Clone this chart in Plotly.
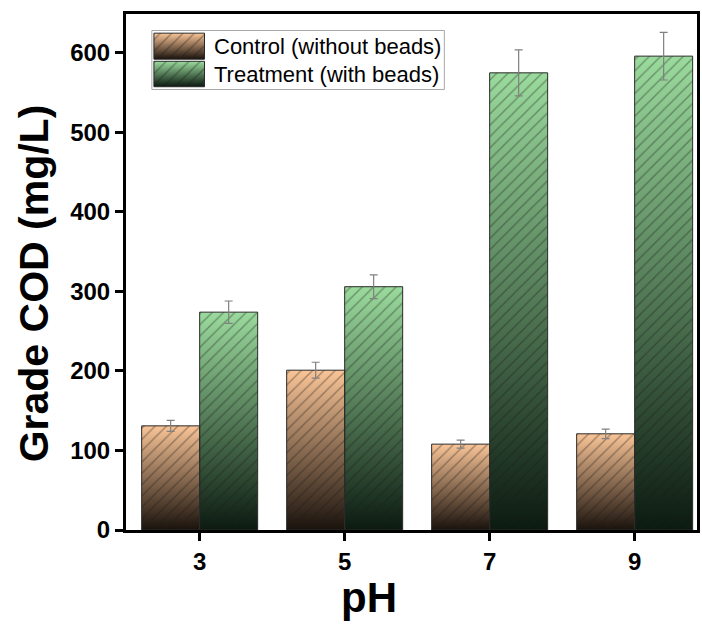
import plotly.graph_objects as go

# ---------------- data ----------------
ph_labels = ['3', '5', '7', '9']
control = [131, 201, 108, 121]
control_err = [7, 10, 5, 6]
treatment = [274, 306, 575, 596]
treatment_err = [14, 15, 29, 30]
series_names = ['Control (without beads)', 'Treatment (with beads)']

# ---------------- style ----------------
x_pos = list(range(len(ph_labels)))
bar_w = 0.4
offsets = [-0.4, 0.0]
light = ['#FAC597', '#9BDB9D']
dark = ['#1a120c', '#0b1a10']
hatch = 'rgba(25,25,25,0.72)'
FONT = 'Liberation Sans, Arial, sans-serif'

values = [control, treatment]
errors = [control_err, treatment_err]

fig = go.Figure()

# gradient fills (base layer)
for s, vals in enumerate(values):
    for i, v in enumerate(vals):
        x0 = x_pos[i] + offsets[s]
        x1 = x0 + bar_w
        fig.add_trace(go.Scatter(
            x=[x0, x1, x1, x0, x0], y=[0, 0, v, v, 0],
            fill='toself', mode='lines', line=dict(width=0),
            fillgradient=dict(type='vertical',
                              colorscale=[[0, dark[s]], [1, light[s]]],
                              start=0, stop=v),
            showlegend=False, hoverinfo='skip',
            xaxis='x', yaxis='y'))

# hatched bars with outline and error bars (overlay layer)
for s, vals in enumerate(values):
    fig.add_trace(go.Bar(
        x=x_pos, y=vals, offset=offsets[s], width=bar_w,
        name=series_names[s],
        marker=dict(color='rgba(0,0,0,0)',
                    line=dict(color='#2a2a2a', width=1),
                    pattern=dict(shape='/', fgcolor=hatch, size=8,
                                 solidity=0.18, fillmode='overlay')),
        error_y=dict(type='data', array=errors[s], color='#808080',
                     thickness=1.2, width=4),
        showlegend=False, xaxis='x2', yaxis='y2'))

x_range = [-0.508, 3.43]
y_range = [0, 649]

axis_common = dict(showline=True, linecolor='black', linewidth=3,
                   mirror=True, ticks='outside', ticklen=8, tickwidth=2.5,
                   tickcolor='black', showgrid=False, zeroline=False,
                   tickfont=dict(family=FONT, size=24, color='black',
                                 weight='bold'))

fig.update_layout(
    width=702, height=626,
    margin=dict(l=126, r=2, t=14, b=96),
    paper_bgcolor='white', plot_bgcolor='white',
    barmode='overlay',
    showlegend=False,
    xaxis=dict(range=x_range, tickvals=x_pos, ticktext=ph_labels,
               **axis_common),
    yaxis=dict(range=y_range, tickvals=[0, 100, 200, 300, 400, 500, 600],
               **axis_common),
    xaxis2=dict(range=x_range, overlaying='x', visible=False),
    yaxis2=dict(range=y_range, overlaying='y', visible=False),
    xaxis3=dict(domain=[0.0453, 0.5575], range=[0, 1], visible=False,
                anchor='y3', fixedrange=True),
    yaxis3=dict(domain=[0.8537, 0.968], range=[0, 1], visible=False,
                anchor='x3', fixedrange=True),
    shapes=[dict(type='rect', xref='paper', yref='paper',
                 x0=0.0453, x1=0.5575, y0=0.8537, y1=0.968,
                 line=dict(color='#a8a8a8', width=1),
                 fillcolor='rgba(0,0,0,0)', layer='above')],
)

# axis titles
fig.add_annotation(text='pH', xref='paper', yref='paper',
                   x=0.425, y=-0.131, xanchor='center', yanchor='middle',
                   showarrow=False,
                   font=dict(family=FONT, size=42, color='black',
                             weight='bold'))
fig.add_annotation(text='Grade COD (mg/L)', xref='paper', yref='paper',
                   x=-0.162, y=0.479, xanchor='center', yanchor='middle',
                   textangle=-90, showarrow=False,
                   font=dict(family=FONT, size=41, color='black',
                             weight='bold'))

# manual legend swatches (legend axes)
sw_x = [0.007, 0.180]
sw_y = [[0.514, 0.955], [0.047, 0.478]]
for s in range(2):
    y0, y1 = sw_y[s]
    xs = [sw_x[0], sw_x[1], sw_x[1], sw_x[0], sw_x[0]]
    ys = [y0, y0, y1, y1, y0]
    fig.add_trace(go.Scatter(
        x=xs, y=ys, fill='toself', mode='lines', line=dict(width=0),
        fillgradient=dict(type='vertical',
                          colorscale=[[0, dark[s]], [1, light[s]]],
                          start=y0, stop=y1),
        showlegend=False, hoverinfo='skip', xaxis='x3', yaxis='y3'))
    fig.add_trace(go.Scatter(
        x=xs, y=ys, fill='toself', mode='lines',
        line=dict(width=1, color='#2a2a2a'),
        fillcolor='rgba(0,0,0,0)',
        fillpattern=dict(shape='/', fgcolor=hatch, size=8,
                         solidity=0.18, fillmode='overlay'),
        showlegend=False, hoverinfo='skip', xaxis='x3', yaxis='y3'))
    fig.add_annotation(x=0.204, y=(y0 + y1) / 2, xref='x3', yref='y3',
                       text=series_names[s], showarrow=False,
                       xanchor='left', yanchor='middle',
                       font=dict(family=FONT, size=22, color='black'))

fig.write_html('out.html')
